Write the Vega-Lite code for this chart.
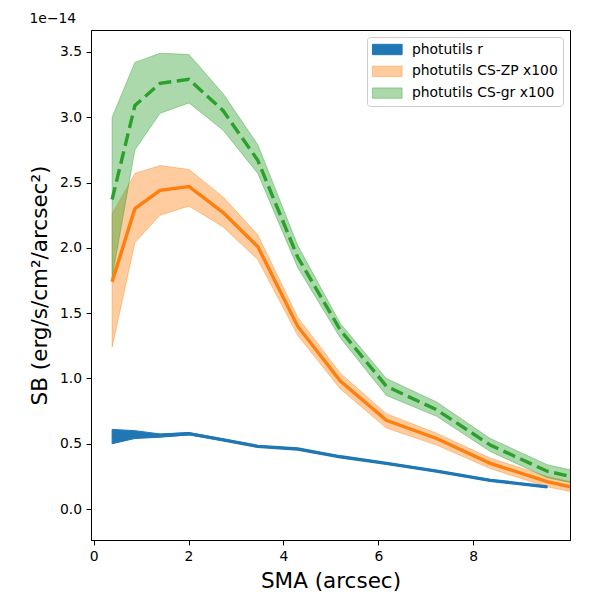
{
  "$schema": "https://vega.github.io/schema/vega-lite/v6.json",
  "autosize": "none",
  "width": 479,
  "height": 510,
  "padding": {"left": 91, "top": 30, "right": 30, "bottom": 60},
  "title": {
    "text": "1e\u221214",
    "anchor": "start",
    "font": "DejaVu Sans",
    "fontSize": 13.9,
    "fontWeight": "normal",
    "color": "black",
    "offset": 4.5
  },
  "config": {
    "view": {"stroke": "black", "strokeWidth": 1},
    "axis": {
      "labelFont": "DejaVu Sans",
      "labelFontSize": 13.9,
      "labelColor": "black",
      "titleFont": "DejaVu Sans",
      "titleFontSize": 21.5,
      "titleFontWeight": "normal",
      "titleColor": "black",
      "tickColor": "black",
      "tickSize": 4.9,
      "tickWidth": 1,
      "domainColor": "black",
      "domainWidth": 1,
      "labelPadding": 4.5,
      "grid": false
    },
    "legend": {
      "labelFont": "DejaVu Sans",
      "labelFontSize": 13.9,
      "labelColor": "black"
    }
  },
  "data": {
    "values": [
      {"series": "photutils r", "sma": 0.39, "sb": 0.55, "lo": 0.5, "hi": 0.61},
      {"series": "photutils r", "sma": 0.87, "sb": 0.57, "lo": 0.54, "hi": 0.6},
      {"series": "photutils r", "sma": 1.4, "sb": 0.563, "lo": 0.55, "hi": 0.575},
      {"series": "photutils r", "sma": 2.01, "sb": 0.577, "lo": 0.568, "hi": 0.585},
      {"series": "photutils r", "sma": 2.73, "sb": 0.53, "lo": 0.524, "hi": 0.537},
      {"series": "photutils r", "sma": 3.46, "sb": 0.48, "lo": 0.475, "hi": 0.486},
      {"series": "photutils r", "sma": 4.3, "sb": 0.46, "lo": 0.455, "hi": 0.465},
      {"series": "photutils r", "sma": 5.2, "sb": 0.4, "lo": 0.395, "hi": 0.405},
      {"series": "photutils r", "sma": 6.17, "sb": 0.35, "lo": 0.345, "hi": 0.355},
      {"series": "photutils r", "sma": 7.23, "sb": 0.29, "lo": 0.285, "hi": 0.295},
      {"series": "photutils r", "sma": 8.36, "sb": 0.22, "lo": 0.215, "hi": 0.225},
      {"series": "photutils r", "sma": 9.56, "sb": 0.17, "lo": 0.165, "hi": 0.175},
      {"series": "photutils CS-ZP x100", "sma": 0.39, "sb": 1.74, "lo": 1.24, "hi": 2.26},
      {"series": "photutils CS-ZP x100", "sma": 0.87, "sb": 2.3, "lo": 2.04, "hi": 2.57},
      {"series": "photutils CS-ZP x100", "sma": 1.4, "sb": 2.44, "lo": 2.25, "hi": 2.63},
      {"series": "photutils CS-ZP x100", "sma": 2.01, "sb": 2.47, "lo": 2.32, "hi": 2.6},
      {"series": "photutils CS-ZP x100", "sma": 2.73, "sb": 2.27, "lo": 2.16, "hi": 2.39},
      {"series": "photutils CS-ZP x100", "sma": 3.46, "sb": 2.01, "lo": 1.91, "hi": 2.1},
      {"series": "photutils CS-ZP x100", "sma": 4.3, "sb": 1.4, "lo": 1.33, "hi": 1.47},
      {"series": "photutils CS-ZP x100", "sma": 5.2, "sb": 0.98, "lo": 0.92, "hi": 1.04},
      {"series": "photutils CS-ZP x100", "sma": 6.17, "sb": 0.68, "lo": 0.62, "hi": 0.73},
      {"series": "photutils CS-ZP x100", "sma": 7.23, "sb": 0.54, "lo": 0.49, "hi": 0.58},
      {"series": "photutils CS-ZP x100", "sma": 8.36, "sb": 0.35, "lo": 0.31, "hi": 0.39},
      {"series": "photutils CS-ZP x100", "sma": 9.56, "sb": 0.21, "lo": 0.17, "hi": 0.25},
      {"series": "photutils CS-ZP x100", "sma": 10.9, "sb": 0.1, "lo": 0.07, "hi": 0.14},
      {"series": "photutils CS-gr x100", "sma": 0.39, "sb": 2.37, "lo": 1.77, "hi": 3.0},
      {"series": "photutils CS-gr x100", "sma": 0.87, "sb": 3.09, "lo": 2.75, "hi": 3.42},
      {"series": "photutils CS-gr x100", "sma": 1.4, "sb": 3.26, "lo": 3.03, "hi": 3.49},
      {"series": "photutils CS-gr x100", "sma": 2.01, "sb": 3.29, "lo": 3.11, "hi": 3.48},
      {"series": "photutils CS-gr x100", "sma": 2.73, "sb": 3.05, "lo": 2.9, "hi": 3.18},
      {"series": "photutils CS-gr x100", "sma": 3.46, "sb": 2.67, "lo": 2.57, "hi": 2.79},
      {"series": "photutils CS-gr x100", "sma": 4.3, "sb": 1.93, "lo": 1.85, "hi": 2.02},
      {"series": "photutils CS-gr x100", "sma": 5.2, "sb": 1.37, "lo": 1.31, "hi": 1.42},
      {"series": "photutils CS-gr x100", "sma": 6.17, "sb": 0.94, "lo": 0.87, "hi": 1.0},
      {"series": "photutils CS-gr x100", "sma": 7.23, "sb": 0.76, "lo": 0.71, "hi": 0.82},
      {"series": "photutils CS-gr x100", "sma": 8.36, "sb": 0.49, "lo": 0.44, "hi": 0.54},
      {"series": "photutils CS-gr x100", "sma": 9.56, "sb": 0.29, "lo": 0.24, "hi": 0.34},
      {"series": "photutils CS-gr x100", "sma": 10.9, "sb": 0.18, "lo": 0.14, "hi": 0.23}
    ]
  },
  "encoding": {
    "x": {
      "field": "sma",
      "type": "quantitative",
      "title": "SMA (arcsec)",
      "scale": {"domain": [-0.055, 10.04], "nice": false, "zero": false},
      "axis": {"values": [0, 2, 4, 6, 8], "format": "d", "titlePadding": 7}
    },
    "y": {
      "field": "sb",
      "type": "quantitative",
      "title": "SB (erg/s/cm\u00b2/arcsec\u00b2)",
      "scale": {"domain": [-0.237, 3.668], "nice": false, "zero": false},
      "axis": {"values": [0, 0.5, 1, 1.5, 2, 2.5, 3, 3.5], "format": ".1f", "titlePadding": 8}
    }
  },
  "layer": [
    {
      "mark": {"type": "area", "clip": true, "strokeWidth": 1},
      "encoding": {
        "y": {"field": "lo", "type": "quantitative"},
        "y2": {"field": "hi"},
        "color": {
          "field": "series",
          "type": "nominal",
          "title": null,
          "scale": {
            "type": "ordinal",
            "domain": ["photutils r", "photutils CS-ZP x100", "photutils CS-gr x100"],
            "range": ["#1f77b4", "#ff7f0e", "#2ca02c"]
          },
          "legend": {
            "orient": "top-right",
            "offset": 7,
            "padding": 5,
            "strokeColor": "#cccccc",
            "cornerRadius": 3,
            "fillColor": "white",
            "symbolType": "M-1,-0.74H3.23V0.74H-1Z",
            "symbolSize": 196,
            "symbolStrokeWidth": 1,
            "rowPadding": 6.8,
            "labelOffset": 25,
            "encode": {
              "symbols": {
                "update": {
                  "fillOpacity": {"signal": "datum.value == 'photutils r' ? 1 : 0.4"},
                  "strokeOpacity": {"signal": "datum.value == 'photutils r' ? 1 : 0.4"}
                }
              }
            }
          }
        },
        "stroke": {
          "field": "series",
          "type": "nominal",
          "title": null,
          "scale": {
            "type": "ordinal",
            "domain": ["photutils r", "photutils CS-ZP x100", "photutils CS-gr x100"],
            "range": ["#1f77b4", "#ff7f0e", "#2ca02c"]
          }
        },
        "fillOpacity": {
          "field": "series",
          "type": "nominal",
          "title": null,
          "scale": {
            "type": "ordinal",
            "domain": ["photutils r", "photutils CS-ZP x100", "photutils CS-gr x100"],
            "range": [1, 0.4, 0.4]
          }
        },
        "strokeOpacity": {
          "field": "series",
          "type": "nominal",
          "title": null,
          "scale": {
            "type": "ordinal",
            "domain": ["photutils r", "photutils CS-ZP x100", "photutils CS-gr x100"],
            "range": [1, 0.4, 0.4]
          }
        }
      }
    },
    {
      "transform": [{"filter": "datum.series == 'photutils r'"}],
      "mark": {"type": "line", "clip": true, "strokeWidth": 3.4, "color": "#1f77b4"},
      "encoding": {}
    },
    {
      "transform": [{"filter": "datum.series == 'photutils CS-ZP x100'"}],
      "mark": {"type": "line", "clip": true, "strokeWidth": 3.4, "color": "#ff7f0e"},
      "encoding": {}
    },
    {
      "transform": [{"filter": "datum.series == 'photutils CS-gr x100'"}],
      "mark": {"type": "line", "clip": true, "strokeWidth": 3.4, "color": "#2ca02c", "strokeDash": [12.8, 5.6]},
      "encoding": {}
    },
    {
      "mark": {"type": "rule", "color": "black", "strokeWidth": 2, "strokeDash": [7.7, 3.3]},
      "encoding": {"y": {"datum": 0}}
    }
  ]
}
